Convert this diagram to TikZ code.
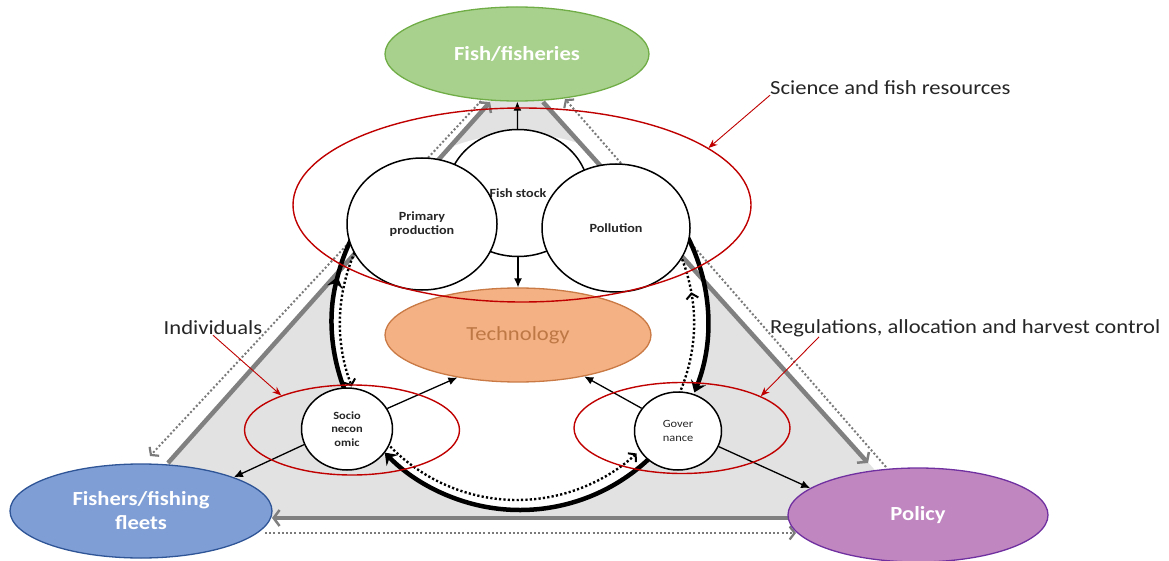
\documentclass[tikz,border=0pt]{standalone}
\usepackage{fontspec}
\setmainfont{Carlito}
\usepackage{graphicx}
\usetikzlibrary{shapes.geometric,arrows.meta,calc}
\definecolor{greenF}{HTML}{A9D18E}
\definecolor{greenD}{HTML}{70AD47}
\definecolor{blueF}{HTML}{7F9ED6}
\definecolor{blueD}{HTML}{2F5597}
\definecolor{purpF}{HTML}{BF86BF}
\definecolor{purpD}{HTML}{7030A0}
\definecolor{orangeF}{HTML}{F4B183}
\definecolor{orangeD}{HTML}{C97A45}
\definecolor{techT}{HTML}{BE7846}
\definecolor{triF}{HTML}{E2E2E2}
\definecolor{greyL}{HTML}{808080}
\definecolor{dotL}{HTML}{7A7A7A}
\definecolor{redL}{HTML}{C00000}
\newcommand\hs[1]{\scalebox{1.13}[1]{#1}}
\begin{document}
\begin{tikzpicture}[x=1pt,y=-1pt,
  bigell/.style={ellipse, draw, line width=1.3pt, inner sep=0pt, text=white,
    font=\fontsize{20}{22}\selectfont\bfseries, align=center},
  wcirc/.style={ellipse, draw=black, line width=1.5pt, fill=white, inner sep=0pt,
    font=\fontsize{12.5}{14}\selectfont\bfseries, align=center, text=black!85},
  scirc/.style={ellipse, draw=black, line width=1.5pt, fill=white, inner sep=0pt,
    font=\fontsize{11}{14}\selectfont, align=center, text=black!85},
  redell/.style={ellipse, draw=redL, line width=1.4pt, inner sep=0pt},
  lab/.style={inner sep=0pt, font=\fontsize{20}{22}\selectfont, text=black!85},
  blk/.style={draw=black, line width=1.3pt, -{Latex[length=9pt,width=8pt]}},
  redarr/.style={draw=redL, line width=0.9pt, -{Stealth[length=9pt,width=7pt]}},
  greyline/.style={draw=greyL, line width=4.5pt, -{Straight Barb[length=6pt,width=16pt,line width=2.5pt]}},
  dotline/.style={draw=dotL, line width=2pt, dash pattern=on 2pt off 2.2pt,
    -{Straight Barb[length=5pt,width=13pt,line width=2.2pt]}},
  thickloop/.style={draw=black, line width=4.5pt},
  dotloop/.style={draw=black, line width=2.4pt, dash pattern=on 2.2pt off 2.2pt}
]
\useasboundingbox (0,0) rectangle (1169,561);
\fill[white] (0,0) rectangle (1169,561);
% triangle background
\fill[triF] (490,101) -- (543,101) -- (918,518) -- (119,518) -- cycle;
\coordinate (C1) at (520,322);
\coordinate (C2) at (517,323);
\fill[white] (C1) circle[radius=188];
% grey cycle
\coordinate (gL1) at (168,463); \coordinate (gL2) at (490,102);
\coordinate (gR1) at (543,102); \coordinate (gR2) at (868,463);
\coordinate (gB1) at (790,518); \coordinate (gB2) at (272,518);
\draw[greyline] (gL1) -- (gL2);
\draw[greyline] (gR1) -- (gR2);
\draw[greyline] (gB1) -- (gB2);
% dotted cycle
\coordinate (dL1) at (481,101); \coordinate (dL2) at (150,456);
\coordinate (dR1) at (886,467); \coordinate (dR2) at (565,99);
\coordinate (dB1) at (265,533); \coordinate (dB2) at (796,533);
\draw[dotline] (dL1) -- (dL2);
\draw[dotline] (dR1) -- (dR2);
\draw[dotline] (dB1) -- (dB2);
% inner loop thick
\draw[thickloop, -{Stealth[length=11pt,width=16pt,inset=4pt]}] ($(C1)+(150:188)$) arc[start angle=150, end angle=194, radius=188];
\draw[thickloop] ($(C1)+(192:188)$) arc[start angle=192, end angle=212, radius=188];
\draw[thickloop, -{Stealth[length=11pt,width=16pt,inset=4pt]}] ($(C1)+(-30:188)$) arc[start angle=-30, end angle=22, radius=188];
\draw[thickloop, -{Stealth[length=11pt,width=16pt,inset=4pt]}] ($(C1)+(44:188)$) arc[start angle=44, end angle=136, radius=188];
% inner loop dotted
\draw[dotloop, -{Straight Barb[length=5pt,width=12pt,line width=2pt]}] ($(C2)+(212:177)$) arc[start angle=212, end angle=159, radius=177];
\draw[dotloop, -{Straight Barb[length=5pt,width=12pt,line width=2pt]}] ($(C2)+(140:177)$) arc[start angle=140, end angle=47.5, radius=177];
\draw[dotloop, -{Straight Barb[length=5pt,width=12pt,line width=2pt]}] ($(C2)+(25:177)$) arc[start angle=25, end angle=-10, radius=177];
\draw[dotloop] ($(C2)+(-9:177)$) arc[start angle=-9, end angle=-26, radius=177];
% main nodes
\node[bigell, fill=greenF, draw=greenD, minimum width=264, minimum height=94] (fish) at (517,54) {\hs{Fish/fisheries}};
\node[bigell, fill=blueF, draw=blueD, minimum width=262, minimum height=94] (fishers) at (141,511) {\hs{Fishers/fishing}\\[2pt]\hs{fleets}};
\node[bigell, fill=purpF, draw=purpD, minimum width=260, minimum height=94] (policy) at (918,515) {\hs{Policy}};
\node[ellipse, fill=orangeF, draw=orangeD, line width=1.3pt, inner sep=0pt, minimum width=266, minimum height=94,
  text=techT, font=\fontsize{20}{22}\selectfont] (tech) at (518,335) {\hs{Technology}};
\node[wcirc, minimum width=142, minimum height=127] (fishstock) at (518,193) {\hs{Fish stock}};
\node[wcirc, minimum width=150, minimum height=132] (primary) at (422,224) {\hs{Primary}\\\hs{production}};
\node[wcirc, minimum width=148, minimum height=128] (pollution) at (616,228) {\hs{Pollution}};
\node[scirc, minimum width=91, minimum height=82, font=\fontsize{11}{13.5}\selectfont\bfseries] (socio) at (347,429) {\hs{Socio}\\\hs{necon}\\\hs{omic}};
\node[scirc, minimum width=87, minimum height=78] (gov) at (678,431) {\hs{Gover}\\\hs{nance}};
% black arrows
\draw[blk] (fishstock) -- (fish);
\draw[blk] (fishstock) -- (tech);
\draw[blk] (socio.27) -- (tech.215);
\draw[blk] (socio.200) -- (fishers.20);
\draw[blk] (gov.148) -- (tech.328);
\draw[blk] (gov.339) -- (policy.166);
% red groupings
\node[redell, minimum width=458, minimum height=194] (science) at (522,205) {};
\node[redell, minimum width=215, minimum height=90] (indiv) at (352,430) {};
\node[redell, minimum width=216, minimum height=91] (reg) at (682,428) {};
\node[lab, anchor=west] (scilab) at (770,88) {\hs{Science and fish resources}};
\node[lab] (indlab) at (213,328) {\hs{Individuals}};
\node[lab, anchor=west] (reglab) at (770,328) {\hs{Regulations, allocation and harvest control}};
\draw[redarr] (scilab.south west) -- (science.17);
\draw[redarr] (indlab.south) -- (indiv.154);
\draw[redarr] ([xshift=49pt]reglab.south west) -- (reg.22);
\end{tikzpicture}
\end{document}
